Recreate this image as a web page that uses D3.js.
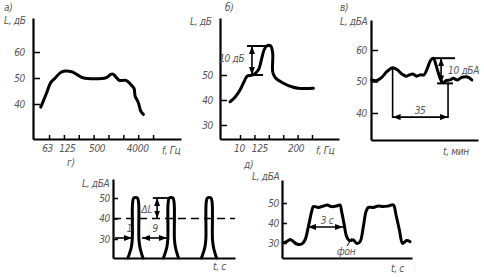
<!DOCTYPE html>
<html>
<head>
<meta charset="utf-8">
<script src="https://cdn.jsdelivr.net/npm/d3@7"></script>
<style>
    body { margin: 0; background: #fff; }
    svg text { font-family: "DejaVu Sans", sans-serif; font-stretch: condensed; font-style: italic; font-size: 10px; fill: #555; letter-spacing: -0.3px; }
</style>
</head>
<body>
<svg id="chart" width="484" height="277"></svg>
<script>
/* ------------------------- DATA ------------------------- */

// а) octave spectrum, x = band index (0 = 63 Hz)
const bandsA = ["63", "125", "250", "500", "1000", "2000", "4000", "8000"]
const labelsA = ["63", "125", "", "500", "", "", "4000", ""]
const spectrumA = [[-0.56, 38.8], [-0.38, 41.2], [-0.16, 44.3], [0.11, 48.2], [0.4, 49.9], [0.85, 52.4], [1.53, 52.4],
    [1.86, 51.4], [2.27, 50.1], [3.84, 50.1], [4.15, 51.4], [4.33, 51.4], [4.73, 49.1], [5.18, 49.1], [5.45, 47.8],
    [5.72, 46], [5.79, 43.1], [6.01, 40.5], [6.17, 37.3], [6.35, 36]]

// б) spectrum with tonal peak
const labelsB = ["10", "125", "", "", "200", ""]
const spectrumB = [[-0.69, 39.3], [-0.35, 41.1], [0, 44], [0.28, 47.3], [0.51, 49.6], [0.88, 50], [1.27, 52],
    [1.51, 56.7], [1.67, 60], [1.85, 61.6], [2.13, 61.6], [2.27, 58.7], [2.27, 51.3], [2.43, 49.1], [3.01, 46.7],
    [3.7, 45.1], [4.05, 44.7], [5.09, 44.7]]

// в) level over time, minutes
const levelC = [[0.4, 50.5], [3.7, 50.3], [6.9, 51.3], [10.2, 53.1], [14, 54.4], [17.1, 53.7], [19.9, 52.4],
    [22.7, 51.7], [24.8, 52.1], [27, 52.4], [29.6, 51.7], [31.8, 52.1], [34.3, 52.1], [36.5, 54.2], [38.7, 56.8],
    [40.4, 57.4], [42.1, 55.2], [43.6, 52.8], [45.2, 50.5], [46.9, 49.6], [48.6, 50.3], [51.2, 50.5], [53.3, 51],
    [55.9, 50.5], [58.8, 51.3], [62, 51.5], [65.3, 50.5]]

// г) impulses, seconds
const pulseCenters = [6.3, 16.2, 26.8]
const pulseShape = [[-2.15, 20.7], [-1.2, 26], [-0.92, 30], [-0.84, 47.5], [-0.5, 50], [0.5, 50], [0.84, 47.5],
    [0.92, 30], [1.2, 26], [2.05, 20.7]]

// д) intermittent noise, seconds
const levelE = [[0.11, 30.2], [0.4, 30.7], [0.69, 31.8], [0.97, 30.7], [1.26, 29.5], [1.69, 29.5], [1.97, 31.5],
    [2.26, 38.2], [2.54, 45.7], [2.69, 48.2], [3.11, 47.8], [3.54, 48.5], [3.88, 49], [4.26, 48.2], [4.69, 48.5],
    [4.97, 49], [5.11, 45.7], [5.31, 39.8], [5.54, 33.2], [5.77, 31.2], [6.11, 31.5], [6.4, 29.8], [6.69, 30.7],
    [6.97, 38.2], [7.2, 45.7], [7.4, 47.8], [7.82, 47.8], [8.25, 48.5], [8.68, 48.2], [9.11, 48.5], [9.54, 49],
    [9.77, 44], [10.06, 36.5], [10.34, 29.8], [10.68, 31.2], [10.97, 30.7]]

/* ------------------------- SETUP ------------------------- */

let svg = d3.select("#chart")

svg.append("defs").append("marker")
    .attr("id", "arr")
    .attr("viewBox", "0 0 8 6")
    .attr("refX", 8).attr("refY", 3)
    .attr("markerWidth", 8).attr("markerHeight", 6)
    .attr("markerUnits", "userSpaceOnUse")
    .attr("orient", "auto-start-reverse")
    .append("path").attr("d", "M0,0L8,3L0,6Z").attr("fill", "#000")

function panel(o) {
    let g = svg.append("g")
    let x = d3.scaleLinear().domain(o.xDomain).range(o.xRange)
    let y = d3.scaleLinear().domain(o.yDomain).range(o.yRange)

    let xAxis = g.append("g")
        .attr("transform", `translate(0,${o.yRange[0]})`)
        .call(d3.axisBottom(x).tickValues(o.xTicks || []).tickFormat(o.xFormat || (() => ""))
            .tickSize(-4).tickSizeOuter(0).tickPadding(6))
    if (o.xNudge) xAxis.selectAll(".tick text").attr("dx", (d, i) => o.xNudge[i] || 0)   // hand-drawn label spacing

    g.append("g")
        .attr("transform", `translate(${o.xRange[0]},0)`)
        .call(d3.axisLeft(y).tickValues(o.yTicks).tickSize(-o.yTick).tickSizeOuter(0).tickPadding(o.yPad))

    g.selectAll(".domain").attr("stroke", "#000").attr("stroke-width", 2.2)
    g.selectAll(".tick line").attr("stroke", "#000").attr("stroke-width", 1.5)

    g.append("text").attr("x", o.letter[0]).attr("y", o.letter[1]).text(o.letter[2])
    g.append("text").attr("x", o.yTitle[0]).attr("y", o.yTitle[1]).text(o.yTitle[2])
    g.append("text").attr("x", o.xTitle[0]).attr("y", o.xTitle[1]).text(o.xTitle[2])

    let line = d3.line().x(d => x(d[0])).y(d => y(d[1])).curve(d3.curveCatmullRom.alpha(0.5))
    return { g, x, y, line }
}

function curve(p, data) {
    p.g.append("path").datum(data)
        .attr("d", p.line)
        .attr("fill", "none").attr("stroke", "#000").attr("stroke-width", 3)
        .attr("stroke-linejoin", "round").attr("stroke-linecap", "round")
}

function seg(p, x1, y1, x2, y2, arrows, w) {
    let l = p.g.append("line")
        .attr("x1", p.x(x1)).attr("y1", p.y(y1)).attr("x2", p.x(x2)).attr("y2", p.y(y2))
        .attr("stroke", "#000").attr("stroke-width", w || 1.6)
    if (arrows == "end" || arrows == "both") l.attr("marker-end", "url(#arr)")
    if (arrows == "both") l.attr("marker-start", "url(#arr)")
    return l
}

function label(p, x, y, txt, anchor) {
    p.g.append("text").attr("x", p.x(x)).attr("y", p.y(y)).attr("text-anchor", anchor || "middle").text(txt)
}

/* ------------------------- а) ------------------------- */

let pA = panel({
    xDomain: [-1.08, 8.88], xRange: [33, 181],
    yDomain: [26.54, 73.08], yRange: [139, 18],
    xTicks: d3.range(bandsA.length), xFormat: i => labelsA[i], xNudge: [-2, 3, 0, 3, 0, 0, -1, 0],
    yTicks: [40, 50, 60], yTick: 7, yPad: 8,
    letter: [4, 11, "а)"], yTitle: [4, 24, "L, дБ"], xTitle: [162, 154, "f, Гц"]
})
curve(pA, spectrumA)

/* ------------------------- б) ------------------------- */

let pB = panel({
    xDomain: [-1.39, 6.875], xRange: [220, 339],
    yDomain: [24.4, 72.8], yRange: [139, 18],
    xTicks: d3.range(labelsB.length), xFormat: i => labelsB[i], xNudge: [-1, 5, 0, 0, -2, 0],
    yTicks: [30, 40, 50], yTick: 7, yPad: 7,
    letter: [225, 11, "б)"], yTitle: [190, 25, "L, дБ"], xTitle: [316, 154, "f, Гц"]
})
curve(pB, spectrumB)
seg(pB, 0.49, 61.6, 2.22, 61.6, null, 2)
seg(pB, 0.56, 50, 1.6, 50, null, 2)
seg(pB, 0.83, 61.6, 0.83, 50, "both")
label(pB, 0.3, 55.2, "10 дБ", "end")

/* ------------------------- в) ------------------------- */

let pC = panel({
    xDomain: [0, 69.3], xRange: [371, 478],
    yDomain: [31.43, 69.52], yRange: [140, 20],
    yTicks: [40, 50, 60], yTick: 7, yPad: 4,
    letter: [340, 11, "в)"], yTitle: [340, 25, "L, дБА"], xTitle: [443, 155, "t, мин"]
})
curve(pC, levelC)
seg(pC, 14, 54.4, 14, 38.4)
seg(pC, 49.9, 49.5, 49.9, 38.4)
seg(pC, 14, 38.7, 49.9, 38.7, "both")
label(pC, 31.8, 39.6, "35")
seg(pC, 39.5, 57.4, 54.4, 57.4, null, 2)
seg(pC, 42.8, 49.4, 53.1, 49.4, null, 2)
seg(pC, 45.4, 57.4, 45.4, 49.4, "both")
label(pC, 49.9, 52.4, "10 дБА", "start")

/* ------------------------- г) ------------------------- */

let pD = panel({
    xDomain: [0, 34], xRange: [113, 235],
    yDomain: [20.73, 59.27], yRange: [258, 179],
    yTicks: [30, 40, 50], yTick: 5, yPad: 3,
    letter: [67, 166, "г)"], yTitle: [82, 187, "L, дБА"], xTitle: [213, 270, "t, с"]
})
seg(pD, 0, 40, 34, 40, null, 1.6).attr("stroke-dasharray", "8,5")
pulseCenters.forEach(c => curve(pD, pulseShape.map(d => [c + d[0], d[1]])))
seg(pD, 11.1, 50, 16.9, 50, null, 1.8)
seg(pD, 12.3, 50, 12.3, 40, "both")
label(pD, 10.9, 42.7, "ΔL", "end")
seg(pD, 0.5, 30.5, 5.3, 30.5, "end")
label(pD, 4.6, 33.4, "1")
seg(pD, 8.1, 30.5, 15, 30.5, "both")
label(pD, 11.8, 33.4, "9")

/* ------------------------- д) ------------------------- */

let pE = panel({
    xDomain: [0, 11.14], xRange: [282, 412],
    yDomain: [22.5, 61.5], yRange: [258, 180],
    yTicks: [30, 40, 50], yTick: 5, yPad: 3,
    letter: [244, 168, "д)"], yTitle: [252, 180, "L, дБА"], xTitle: [391, 272, "t, с"]
})
curve(pE, levelE)
seg(pE, 2.23, 38, 5.23, 38, "both")
label(pE, 3.86, 39.6, "3 с")
seg(pE, 5.57, 28.5, 6.0, 32.5, null, 1)
label(pE, 5.5, 24, "фон")
</script>
</body>
</html>
